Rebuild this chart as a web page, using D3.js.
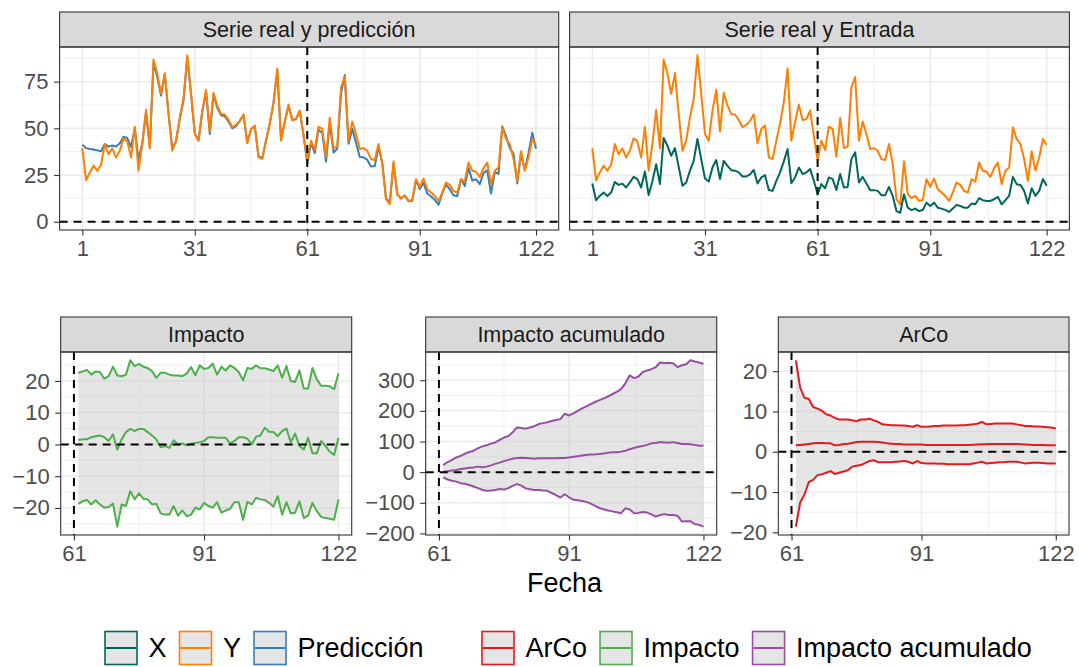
<!DOCTYPE html>
<html>
<head>
<meta charset="utf-8">
<script src="https://cdnjs.cloudflare.com/ajax/libs/d3/7.8.5/d3.min.js"></script>
<style>
  body { margin: 0; background: #fff; }
  svg { font-family: "Liberation Sans", Arial, sans-serif; }
</style>
</head>
<body>
<svg id="chart" width="1079" height="667"></svg>
<script>
// datos
var corte = 61;
var dias = d3.range(1, 123);
var diasPost = d3.range(62, 123);

var serieY = [39.4, 22.2, 26.4, 30, 27.3, 30.5, 41.6, 36.2, 39.3, 34.4,
  38, 44.6, 43, 34.4, 50.9, 27.3, 41.6, 59.9, 39.3, 86.8,
  79.3, 68.5, 79.6, 57.7, 38, 43.4, 55.9, 65.8, 89.1, 68.5,
  47, 43.4, 59.5, 70.6, 48.4, 69, 62.2, 57.7, 57.4, 54.5,
  50.6, 51.8, 54, 57.5, 42, 49.7, 51.5, 34.4, 33.5, 43.4,
  52.7, 64, 82, 43.4, 53.3, 62.8, 54.5, 55, 59.5, 46,
  33, 43.4, 38.4, 50.9, 49.7, 34.8, 55.6, 39.4, 40.2, 72,
  77.5, 43.4, 53.6, 47, 38.9, 39.4, 38, 33.5, 33, 41.6,
  30.8, 12, 9.3, 32.3, 14.7, 12.6, 13.8, 11.1, 11.7, 22.8,
  18.6, 23.1, 17.4, 15.6, 13.8, 11.1, 15.6, 21, 19.7, 16.5,
  15.6, 22.8, 21.5, 31.7, 27.3, 26.7, 24, 28.7, 31.7, 20.1,
  27.3, 29, 50.6, 44.3, 41.6, 33.5, 21.9, 37.7, 27.3, 34.4,
  44.3, 41.2];

var serieX = [20.4, 11.5, 13.8, 15.6, 13.8, 15.6, 21.3, 19.7, 20.4, 18.3,
  21, 24, 22.8, 18.3, 26.9, 14.3, 21.5, 30.8, 20.1, 44.8,
  40.7, 35.3, 39.4, 29.4, 19.2, 21, 27.3, 32.6, 44.3, 33.5,
  23.1, 21.5, 29, 33, 22.8, 32.6, 29.9, 27.6, 27.3, 26.4,
  24.2, 24.2, 25.3, 27.7, 20.4, 23.7, 24.9, 17, 16.5, 21.9,
  26.4, 32.3, 38.9, 20.6, 23.7, 29, 25.5, 26.4, 28.2, 21.9,
  14.7, 20.1, 17.9, 23.7, 22.8, 17, 25.5, 18.3, 18.6, 33.5,
  37.1, 21, 24, 20.4, 16.9, 16.9, 16.5, 14.2, 14.2, 18.6,
  13.8, 5.7, 4.8, 14.7, 7.5, 6.2, 7, 5.7, 6.3, 10.2,
  8.4, 10.2, 7.5, 7, 6.3, 5.2, 7, 9, 8.4, 7.5,
  7.5, 9.7, 9.3, 12.6, 11.5, 11.1, 11.1, 12, 13.3, 9.3,
  11.5, 13.8, 24, 20.1, 19.7, 16.5, 9.7, 17.9, 13.8, 16.5,
  22.8, 19.2];

var prediccion = [41.2, 39.4, 38.9, 38.7, 38.2, 37.7, 41.6, 40.2, 40.8, 40.2,
  42, 45.5, 44.8, 40, 50, 33, 42, 58.5, 40, 85,
  77.5, 67.5, 79, 58, 39.5, 43, 55, 65, 88, 68,
  47.5, 43.5, 59, 69.5, 47, 68, 61, 57, 56.5, 53.5,
  50, 51.2, 54, 57, 42.5, 49.5, 51, 35, 34, 43.5,
  52.5, 63.5, 81, 44, 53.5, 62, 54.5, 55, 59, 46.5,
  31, 42, 36.8, 49.3, 47.4, 32.2, 52.8, 37.1, 39.1, 68.8,
  78.5, 41.8, 49.7, 42.1, 34.7, 34.5, 33.1, 29.6, 29.8, 40,
  31.6, 12.5, 10.4, 31, 14.7, 12.3, 14.1, 10.9, 11.2, 22.1,
  17.5, 20.8, 15.1, 13.5, 11.7, 9, 15.3, 19.9, 17.4, 14.2,
  13.8, 22.8, 19.1, 28.9, 22, 22.7, 20.1, 26.1, 27.5, 15.1,
  26.6, 25.6, 51.1, 45.9, 39.5, 36.3, 20.5, 36.6, 27.8, 36.7,
  47.6, 39.1];

// periodo posterior (62..122)
var impacto = [1.4, 1.6, 1.6, 2.3, 2.6, 2.8, 2.3, 1.1, 3.2, -1.6,
  1.6, 3.9, 4.9, 4.2, 4.9, 4.9, 3.9, 2.8, 1.6, -0.8,
  -0.5, -1.1, 1.3, 0, 0.3, -0.3, 0.2, 0.5, 0.7, 1.1,
  2.3, 2.3, 2.1, 2.1, 2.1, 0.3, 1.1, 2.3, 2.3, 1.8,
  0, 2.4, 2.8, 5.3, 4, 3.9, 2.6, 4.2, 5, 0.7,
  3.4, -0.5, -1.6, 2.1, -2.8, -2.8, 1.1, -0.5, -2.3, -3.3,
  2.1];
var impactoSup = [22.6, 23, 23.5, 22, 23, 22.8, 20.7, 21.5, 24.5, 21.7,
  21.5, 22, 26.5, 24.7, 25.4, 24.5, 24.1, 23.1, 21, 22.6,
  22.6, 22, 21.7, 21.7, 21.5, 22.3, 24.4, 21.8, 24.9, 23.8,
  24.1, 25.5, 22, 24.5, 23.3, 24.9, 24.1, 22.8, 20.2, 24.1,
  23.8, 24.9, 24, 24, 23.6, 23.1, 24.9, 21, 24.7, 20,
  19.7, 23.3, 17.6, 17.6, 24.1, 20.5, 18.5, 18.5, 18.3, 17.4,
  22.4];
var impactoInf = [-18.7, -17.9, -17.5, -18.9, -17.6, -18.9, -19.9, -19.7, -18.6, -25.9,
  -18.9, -19.4, -14.7, -17.3, -15.4, -17.1, -17.3, -18.9, -18.7, -21.7,
  -22.1, -22.1, -19.4, -22.4, -20.8, -22.6, -22.1, -19.9, -20.5, -18.4,
  -19.4, -19.9, -18.2, -21.5, -20.8, -20.3, -18.2, -18.2, -23.7, -18.1,
  -18.9, -16.8, -17.3, -17.5, -18.4, -19.6, -16.3, -22.1, -18.2, -21.7,
  -21.5, -17.9, -23.2, -22.4, -18.4, -21, -22.8, -23.2, -23.4, -23.7,
  -17.3];

var acumulado = [1, 3, 5, 7, 10, 12, 14, 15, 18, 16,
  18, 22, 27, 31, 36, 40, 44, 46, 47, 46,
  45, 44, 45, 45, 45, 45, 45, 46, 46, 48,
  50, 52, 54, 56, 58, 58, 59, 61, 63, 65,
  65, 67, 70, 75, 79, 83, 85, 89, 94, 95,
  98, 97, 96, 98, 95, 92, 92, 91, 89, 86,
  87];
var acumuladoSup = [23, 33, 40, 48, 53, 60, 66, 70, 78, 84,
  88, 93, 97, 105, 113, 118, 130, 146, 144, 142,
  146, 150, 157, 160, 163, 167, 170, 173, 191, 185,
  192, 200, 208, 215, 222, 229, 235, 241, 247, 255,
  262, 271, 290, 316, 307, 312, 327, 332, 336, 343,
  358, 356, 357, 355, 343, 349, 352, 365, 361, 358,
  354];
var acumuladoInf = [-17, -24, -28, -31, -36, -38, -42, -47, -52, -58,
  -61, -60, -58, -55, -57, -52, -45, -39, -44, -53,
  -56, -58, -58, -60, -61, -68, -75, -83, -72, -82,
  -90, -92, -94, -97, -103, -110, -117, -121, -125, -128,
  -131, -134, -118, -122, -134, -133, -130, -132, -138, -145,
  -140, -137, -140, -140, -142, -161, -160, -160, -170, -172,
  -178];

var arco = [1.6, 1.7, 1.8, 1.9, 2.1, 2.2, 2.2, 2.1, 2.1, 1.6,
  1.7, 1.9, 2.0, 2.2, 2.4, 2.5, 2.5, 2.5, 2.5, 2.4,
  2.3, 2.1, 2.0, 1.9, 1.9, 1.8, 1.8, 1.8, 1.8, 1.8,
  1.7, 1.7, 1.7, 1.7, 1.7, 1.7, 1.65, 1.65, 1.65, 1.7,
  1.7, 1.75, 1.8, 1.85, 1.85, 1.9, 1.9, 1.9, 1.9, 1.9,
  1.9, 1.9, 1.85, 1.8, 1.75, 1.7, 1.7, 1.65, 1.6, 1.6,
  1.6];
var arcoSup = [22.7, 15.9, 13.4, 13.1, 11.1, 10.7, 10.2, 9.3, 9.0, 8.4,
  8.0, 8.0, 8.0, 7.8, 7.6, 8.0, 8.0, 8.2, 7.8, 7.4,
  6.8, 6.7, 6.6, 6.6, 6.5, 6.5, 6.4, 6.2, 6.6, 6.2,
  6.2, 6.3, 6.4, 6.4, 6.5, 6.5, 6.5, 6.5, 6.6, 6.6,
  6.7, 6.8, 7.0, 7.4, 6.8, 6.9, 7.0, 7.0, 7.0, 7.0,
  7.0, 6.8, 6.6, 6.4, 6.4, 6.3, 6.3, 6.2, 6.1, 6.0,
  5.8];
var arcoInf = [-18.6, -12.6, -10.6, -7.5, -7.0, -5.8, -5.6, -5.2, -4.8, -5.5,
  -5.2, -4.9, -4.6, -3.7, -3.5, -3.3, -2.8, -2.3, -2.1, -2.6,
  -2.6, -2.6, -2.6, -2.5, -2.4, -2.3, -2.5, -2.9, -2.3, -2.8,
  -2.9, -2.9, -2.9, -3.0, -3.0, -3.1, -3.1, -3.1, -3.1, -3.1,
  -3.1, -2.9, -2.7, -2.5, -2.9, -2.8, -2.7, -2.6, -2.6, -2.5,
  -2.5, -2.5, -2.7, -2.9, -2.8, -2.7, -2.7, -2.8, -2.9, -2.9,
  -2.9];

var ticksTop = [1, 31, 61, 91, 122];
var ticksBottom = [61, 91, 122];
var ticksYTop = [0, 25, 50, 75];
var ticksImpacto = [-20, -10, 0, 10, 20];
var ticksAcumulado = [-200, -100, 0, 100, 200, 300];
var ticksArco = [-20, -10, 0, 10, 20];

var colores = {X: "#01665E", Y: "#FF7F00", "Predicción": "#377EB8",
  ArCo: "#E41A1C", Impacto: "#4DAF4A", "Impacto acumulado": "#984EA3"};
var leyenda1 = ["X", "Y", "Predicción"];
var leyenda2 = ["ArCo", "Impacto", "Impacto acumulado"];

var svg = d3.select("#chart");

function padDomain(vals) {
  var e = d3.extent(vals);
  var r = e[1] - e[0];
  return [e[0] - r * 0.05, e[1] + r * 0.05];
}

function minors(t, dom) {
  var m = d3.pairs(t).map(function(d) { return (d[0] + d[1]) / 2; });
  m.unshift(t[0] - (t[1] - t[0]) / 2);
  m.push(t[t.length - 1] + (t[t.length - 1] - t[t.length - 2]) / 2);
  return m.filter(function(v) { return v > dom[0] && v < dom[1]; });
}

// dibuja tira, rejilla, ejes y lineas de referencia
function panel(p) {
  var g = svg.append("g");
  var x = d3.scaleLinear().domain(p.xDom).range([p.x0, p.x1]);
  var y = d3.scaleLinear().domain(p.yDom).range([p.y1, p.y0]);

  g.append("rect").attr("x", p.x0).attr("y", p.y0)
    .attr("width", p.x1 - p.x0).attr("height", p.y1 - p.y0).attr("fill", "#fff");

  g.selectAll(".ymin").data(minors(p.yTicks, p.yDom)).enter().append("line")
    .attr("x1", p.x0).attr("x2", p.x1)
    .attr("y1", function(d) { return y(d); }).attr("y2", function(d) { return y(d); })
    .attr("stroke", "#ebebeb").attr("stroke-width", 0.8);
  g.selectAll(".xmin").data(minors(p.xTicks, p.xDom)).enter().append("line")
    .attr("y1", p.y0).attr("y2", p.y1)
    .attr("x1", function(d) { return x(d); }).attr("x2", function(d) { return x(d); })
    .attr("stroke", "#ebebeb").attr("stroke-width", 0.8);
  g.selectAll(".ymaj").data(p.yTicks).enter().append("line")
    .attr("x1", p.x0).attr("x2", p.x1)
    .attr("y1", function(d) { return y(d); }).attr("y2", function(d) { return y(d); })
    .attr("stroke", "#ebebeb").attr("stroke-width", 1.5);
  g.selectAll(".xmaj").data(p.xTicks).enter().append("line")
    .attr("y1", p.y0).attr("y2", p.y1)
    .attr("x1", function(d) { return x(d); }).attr("x2", function(d) { return x(d); })
    .attr("stroke", "#ebebeb").attr("stroke-width", 1.5);

  // tira del titulo
  g.append("rect").attr("x", p.x0).attr("y", p.y0 - 35)
    .attr("width", p.x1 - p.x0).attr("height", 35)
    .attr("fill", "#d9d9d9").attr("stroke", "#333333").attr("stroke-width", 1.1);
  g.append("text").attr("x", (p.x0 + p.x1) / 2).attr("y", p.y0 - 17.5)
    .attr("dy", "0.35em").attr("text-anchor", "middle")
    .attr("font-size", "21.5px").attr("fill", "#1a1a1a").text(p.title);

  var ax = g.append("g").attr("transform", "translate(0," + p.y1 + ")")
    .call(d3.axisBottom(x).tickValues(p.xTicks).tickFormat(d3.format("d"))
      .tickSize(5.5).tickPadding(4.5));
  ax.select(".domain").remove();
  ax.selectAll("line").attr("stroke", "#333333").attr("stroke-width", 1.1);
  ax.selectAll("text").attr("font-size", "22px").attr("fill", "#4d4d4d")
    .attr("font-family", "Liberation Sans, Arial, sans-serif");

  if (p.showY) {
    var ay = g.append("g").attr("transform", "translate(" + p.x0 + ",0)")
      .call(d3.axisLeft(y).tickValues(p.yTicks).tickFormat(d3.format("d"))
        .tickSize(5.5).tickPadding(5.5));
    ay.select(".domain").remove();
    ay.selectAll("line").attr("stroke", "#333333").attr("stroke-width", 1.1);
    ay.selectAll("text").attr("font-size", "22px").attr("fill", "#4d4d4d")
      .attr("font-family", "Liberation Sans, Arial, sans-serif");
  }

  return {g: g, x: x, y: y, p: p};
}

function refLines(pn) {
  var p = pn.p;
  pn.g.append("line").attr("x1", p.x0).attr("x2", p.x1)
    .attr("y1", pn.y(0)).attr("y2", pn.y(0))
    .attr("stroke", "#000").attr("stroke-width", 2).attr("stroke-dasharray", "8,6");
  pn.g.append("line").attr("x1", pn.x(corte)).attr("x2", pn.x(corte))
    .attr("y1", p.y0).attr("y2", p.y1)
    .attr("stroke", "#000").attr("stroke-width", 2).attr("stroke-dasharray", "8,6");
}

function border(pn) {
  var p = pn.p;
  pn.g.append("rect").attr("x", p.x0).attr("y", p.y0)
    .attr("width", p.x1 - p.x0).attr("height", p.y1 - p.y0)
    .attr("fill", "none").attr("stroke", "#333333").attr("stroke-width", 1.1);
}

function serie(pn, xs, vals, color) {
  var line = d3.line()
    .x(function(d, i) { return pn.x(xs[i]); })
    .y(function(d) { return pn.y(d); });
  pn.g.append("path").datum(vals).attr("d", line)
    .attr("fill", "none").attr("stroke", color).attr("stroke-width", 2)
    .attr("stroke-linejoin", "round");
}

function banda(pn, lo, hi) {
  var area = d3.area()
    .x(function(d, i) { return pn.x(diasPost[i]); })
    .y0(function(d, i) { return pn.y(lo[i]); })
    .y1(function(d, i) { return pn.y(hi[i]); });
  pn.g.append("path").datum(lo).attr("d", area)
    .attr("fill", "#bdbdbd").attr("fill-opacity", 0.4);
}

// fila superior
var xDomTop = padDomain([1, 122]);
var yDomTop = padDomain(serieY.concat(serieX, prediccion, [0]));

var p1 = panel({x0: 59.6, x1: 558.7, y0: 47, y1: 230, xDom: xDomTop, yDom: yDomTop,
  xTicks: ticksTop, yTicks: ticksYTop, title: "Serie real y predicción", showY: true});
serie(p1, dias, prediccion, colores["Predicción"]);
serie(p1, dias, serieY, colores.Y);
refLines(p1);
border(p1);

var p2 = panel({x0: 569.6, x1: 1069.4, y0: 47, y1: 230, xDom: xDomTop, yDom: yDomTop,
  xTicks: ticksTop, yTicks: ticksYTop, title: "Serie real y Entrada", showY: false});
serie(p2, dias, serieY, colores.Y);
serie(p2, dias, serieX, colores.X);
refLines(p2);
border(p2);

// fila inferior
var xDomBot = padDomain([61, 122]);

var p3 = panel({x0: 60.7, x1: 351.7, y0: 352, y1: 535, xDom: xDomBot,
  yDom: padDomain(impactoInf.concat(impactoSup, [0])),
  xTicks: ticksBottom, yTicks: ticksImpacto, title: "Impacto", showY: true});
banda(p3, impactoInf, impactoSup);
[impactoInf, impacto, impactoSup].forEach(function(s) { serie(p3, diasPost, s, colores.Impacto); });
refLines(p3);
border(p3);

var p4 = panel({x0: 425.7, x1: 716.7, y0: 352, y1: 535, xDom: xDomBot,
  yDom: padDomain(acumuladoInf.concat(acumuladoSup, [0])),
  xTicks: ticksBottom, yTicks: ticksAcumulado, title: "Impacto acumulado", showY: true});
banda(p4, acumuladoInf, acumuladoSup);
[acumuladoInf, acumulado, acumuladoSup].forEach(function(s) { serie(p4, diasPost, s, colores["Impacto acumulado"]); });
refLines(p4);
border(p4);

var p5 = panel({x0: 778.3, x1: 1069, y0: 352, y1: 535, xDom: xDomBot,
  yDom: padDomain(arcoInf.concat(arcoSup, [0])),
  xTicks: ticksBottom, yTicks: ticksArco, title: "ArCo", showY: true});
banda(p5, arcoInf, arcoSup);
[arcoInf, arco, arcoSup].forEach(function(s) { serie(p5, diasPost, s, colores.ArCo); });
refLines(p5);
border(p5);

// titulo del eje x
svg.append("text").attr("x", 564.5).attr("y", 592)
  .attr("text-anchor", "middle").attr("font-size", "27px").attr("fill", "#000")
  .text("Fecha");

// leyenda
function grupoLeyenda(items, x0) {
  var cx = x0, cy = 648;
  items.forEach(function(k) {
    var c = colores[k];
    svg.append("rect").attr("x", cx).attr("y", cy - 16.5).attr("width", 32).attr("height", 33)
      .attr("fill", "#e5e5e5").attr("stroke", c).attr("stroke-width", 1.6);
    svg.append("line").attr("x1", cx + 1).attr("x2", cx + 31).attr("y1", cy).attr("y2", cy)
      .attr("stroke", c).attr("stroke-width", 2);
    var t = svg.append("text").attr("x", cx + 43.5).attr("y", cy).attr("dy", "0.35em")
      .attr("font-size", "27px").attr("fill", "#000").text(k);
    cx += 43.5 + t.node().getComputedTextLength() + 13;
  });
}
grupoLeyenda(leyenda1, 105);
grupoLeyenda(leyenda2, 482);
</script>
</body>
</html>
